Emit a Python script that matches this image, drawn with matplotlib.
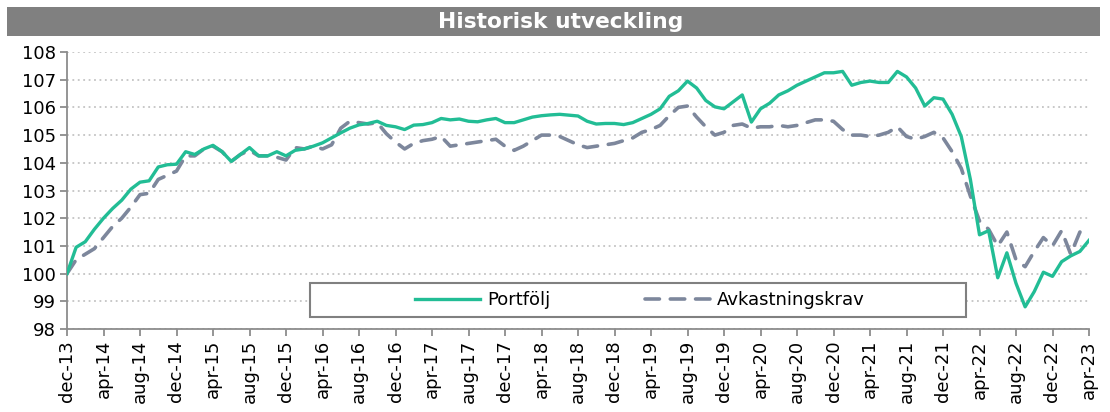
import numpy as np
import matplotlib
matplotlib.use("Agg")
import matplotlib.pyplot as plt
from matplotlib.patches import Rectangle

# Monthly index values, dec-13 .. apr-23
portfolj = [
    100.0, 100.95, 101.15, 101.6, 102.0, 102.35, 102.65, 103.05, 103.3, 103.35,
    103.85, 103.93, 103.95, 104.4, 104.3, 104.5, 104.63, 104.4, 104.05, 104.3,
    104.55, 104.25, 104.25, 104.4, 104.25, 104.45, 104.5, 104.6, 104.72, 104.9,
    105.08, 105.25, 105.37, 105.42, 105.5, 105.35, 105.3, 105.2, 105.36, 105.38,
    105.45, 105.6, 105.55, 105.58, 105.5, 105.48, 105.55, 105.6, 105.45, 105.45,
    105.55, 105.65, 105.7, 105.73, 105.75, 105.72, 105.69, 105.5, 105.4, 105.42,
    105.42, 105.38, 105.45, 105.6, 105.75, 105.95, 106.4, 106.6, 106.95, 106.7,
    106.25, 106.02, 105.95, 106.2, 106.45, 105.47, 105.95, 106.15, 106.45, 106.6,
    106.8, 106.95, 107.1, 107.25, 107.25, 107.3, 106.8, 106.9, 106.95, 106.9,
    106.9, 107.3, 107.1, 106.7, 106.05, 106.35, 106.3, 105.75, 104.95, 103.4,
    101.4, 101.55, 99.85, 100.75, 99.65, 98.8, 99.35, 100.05, 99.9, 100.43,
    100.64, 100.8, 101.2,
]

avkastningskrav = [
    100.0, 100.5, 100.7, 100.9, 101.3, 101.7, 102.0, 102.4, 102.85, 102.9,
    103.4, 103.55, 103.7, 104.25, 104.25, 104.5, 104.6, 104.4, 104.05, 104.3,
    104.45, 104.25, 104.25, 104.2, 104.1, 104.55, 104.5, 104.6, 104.5, 104.65,
    105.25, 105.5, 105.45, 105.4, 105.45, 105.05, 104.75, 104.5, 104.7, 104.8,
    104.85, 104.95, 104.6, 104.65, 104.7, 104.75, 104.8, 104.85, 104.6, 104.45,
    104.6, 104.8, 105.0, 105.0, 104.95, 104.8, 104.65, 104.55, 104.6, 104.65,
    104.7, 104.8, 104.9, 105.1, 105.2, 105.35, 105.7, 106.0, 106.05, 105.65,
    105.3, 105.0, 105.1, 105.35, 105.4, 105.25, 105.3, 105.3, 105.35, 105.3,
    105.35, 105.45, 105.55, 105.55, 105.5, 105.2, 105.0, 105.0, 104.95, 105.0,
    105.1, 105.3, 104.95, 104.85, 104.95, 105.1, 104.9, 104.4, 103.8, 102.8,
    101.9, 101.6, 101.0, 101.5, 100.5, 100.25, 100.8, 101.3, 101.0, 101.55,
    100.7, 101.5, 101.6,
]

# Every fourth month is labelled
tick_labels = [
    "dec-13", "apr-14", "aug-14", "dec-14", "apr-15", "aug-15", "dec-15",
    "apr-16", "aug-16", "dec-16", "apr-17", "aug-17", "dec-17", "apr-18",
    "aug-18", "dec-18", "apr-19", "aug-19", "dec-19", "apr-20", "aug-20",
    "dec-20", "apr-21", "aug-21", "dec-21", "apr-22", "aug-22", "dec-22",
    "apr-23",
]

teal = "#22bd95"
slate = "#7d879c"

months = np.arange(len(portfolj))

fig = plt.figure(figsize=(11.1, 4.12), dpi=100)

# Grey title bar
fig.patches.append(Rectangle((7 / 1110, 1 - 36 / 412), 1093 / 1110, 29 / 412,
                             transform=fig.transFigure, facecolor="#808080",
                             edgecolor="none", zorder=0))
fig.text(0.505, 1 - 21.5 / 412, "Historisk utveckling", color="white",
         fontsize=15.7, fontweight="bold", ha="center", va="center")

ax = fig.add_axes([67 / 1110, 1 - 329 / 412, 1022 / 1110, 277 / 412])

ax.plot(months, portfolj, color=teal, lw=2.4, label="Portfölj", zorder=3)
ax.plot(months, avkastningskrav, color=slate, lw=2.6, dashes=(4, 3),
        dash_capstyle="round", label="Avkastningskrav", zorder=2)

ax.set_xlim(0, len(portfolj) - 1)
ax.set_ylim(98, 108)
ax.set_yticks(np.arange(98, 109, 1))
ax.set_xticks(months[::4])
ax.set_xticklabels(tick_labels, rotation=90)

ax.grid(axis="y", color="#c4c4c4", linestyle=(0, (1, 2)), linewidth=1.3)
ax.set_axisbelow(True)

for side in ["top", "right"]:
    ax.spines[side].set_visible(False)
for side in ["left", "bottom"]:
    ax.spines[side].set_color("#8c8c8c")
    ax.spines[side].set_linewidth(1.3)

ax.tick_params(axis="both", colors="#8c8c8c", length=5, width=1.3,
               labelcolor="black", labelsize=13, pad=3)

# Legend box drawn separately, entries centred inside it
legend_box = Rectangle((310 / 1110, 1 - 317 / 412), 656 / 1110, 34 / 412,
                       transform=fig.transFigure, facecolor="white",
                       edgecolor="#808080", linewidth=1.5, zorder=4)
fig.patches.append(legend_box)
leg = fig.legend(*ax.get_legend_handles_labels(), loc="center", ncol=2,
                 bbox_to_anchor=(640 / 1110, 1 - 300 / 412), fontsize=13,
                 frameon=False, handlelength=3.6, handletextpad=0.4,
                 columnspacing=5.2)
leg.set_zorder(5)

fig.savefig("out.png", dpi=100)
